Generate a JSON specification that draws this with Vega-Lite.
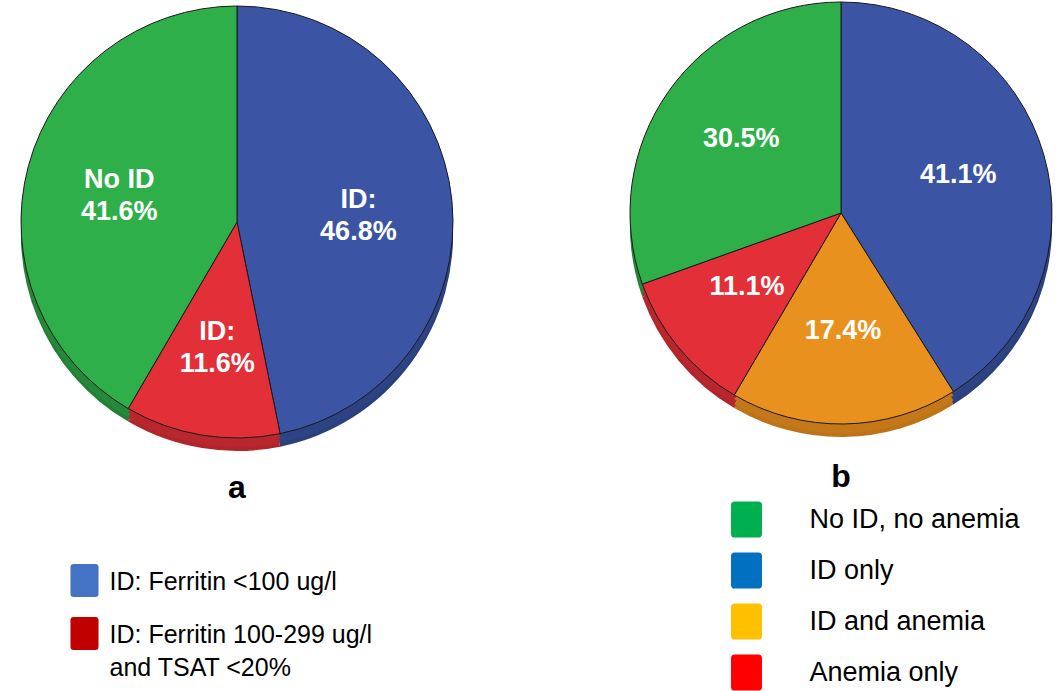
{
  "$schema": "https://vega.github.io/schema/vega-lite/v6.json",
  "padding": 0,
  "background": "white",
  "spacing": 146,
  "config": {"view": {"stroke": null, "fill": "white"}, "font": "Liberation Sans"},
  "resolve": {"scale": {"color": "independent", "theta": "independent", "y": "independent"}},
  "hconcat": [
    {
      "bounds": "flush",
      "spacing": 110,
      "resolve": {"scale": {"color": "independent", "theta": "independent", "y": "independent"}},
      "vconcat": [
        {
          "width": 474,
          "height": 444,
          "title": {"text": "a", "orient": "bottom", "anchor": "middle", "frame": "group", "offset": 47, "baseline": "alphabetic", "fontSize": 32, "fontWeight": "bold", "color": "#000000", "font": "Liberation Sans"},
          "data": {"values": [
            {"group": "ID: Ferritin <100 ug/l", "pct": 46.8, "order": 1, "label": "ID:\n46.8%"},
            {"group": "ID: Ferritin 100-299 ug/l and TSAT <20%", "pct": 11.6, "order": 2, "label": "ID:\n11.6%"},
            {"group": "No ID", "pct": 41.6, "order": 3, "label": "No ID\n41.6%"}
          ]},
          "encoding": {
            "theta": {"field": "pct", "type": "quantitative", "stack": true},
            "order": {"field": "order", "type": "quantitative"}
          },
          "layer": [
            {"mark": {"type": "arc", "radius": 216, "yOffset": 13},
             "encoding": {"color": {"field": "group", "type": "nominal", "legend": null, "scale": {"domain": ["ID: Ferritin <100 ug/l", "ID: Ferritin 100-299 ug/l and TSAT <20%", "No ID"], "range": ["#2B3F7A", "#B0252B", "#227F35"]}}}},
            {"mark": {"type": "arc", "radius": 216, "yOffset": 9},
             "encoding": {"color": {"field": "group", "type": "nominal", "legend": null, "scale": {"domain": ["ID: Ferritin <100 ug/l", "ID: Ferritin 100-299 ug/l and TSAT <20%", "No ID"], "range": ["#2E4383", "#B9272E", "#25883A"]}}}},
            {"mark": {"type": "arc", "radius": 216, "yOffset": 4},
             "encoding": {"color": {"field": "group", "type": "nominal", "legend": null, "scale": {"domain": ["ID: Ferritin <100 ug/l", "ID: Ferritin 100-299 ug/l and TSAT <20%", "No ID"], "range": ["#2E4383", "#B9272E", "#25883A"]}}}},
            {"mark": {"type": "arc", "radius": 216, "stroke": "#1a1a1a", "strokeWidth": 1},
             "encoding": {"color": {"field": "group", "type": "nominal", "legend": null, "scale": {"domain": ["ID: Ferritin <100 ug/l", "ID: Ferritin 100-299 ug/l and TSAT <20%", "No ID"], "range": ["#3B55A4", "#E33038", "#2EAF4A"]}}}},
            {"mark": {"type": "text", "radius": 122, "dy": -10, "fontSize": 27, "fontWeight": "bold", "color": "white", "lineBreak": "\n", "lineHeight": 32, "font": "Liberation Sans"},
             "encoding": {"text": {"field": "label", "type": "nominal"}}}
          ],
          "resolve": {"scale": {"color": "independent"}}
        },
        {
          "width": 169,
          "height": {"step": 53},
          "data": {"values": [
            {"item": "ID: Ferritin <100 ug/l", "label": "ID: Ferritin <100 ug/l"},
            {"item": "ID: Ferritin 100-299 ug/l and TSAT <20%", "label": "ID: Ferritin 100-299 ug/l\nand TSAT <20%"}
          ]},
          "encoding": {"y": {"field": "item", "type": "nominal", "sort": null, "axis": null}},
          "layer": [
            {"mark": {"type": "point", "shape": "M-0.65,-1 L0.65,-1 Q0.85,-1 0.85,-0.8 L0.85,0.8 Q0.85,1 0.65,1 L-0.65,1 Q-0.85,1 -0.85,0.8 L-0.85,-0.8 Q-0.85,-1 -0.65,-1 Z", "size": 1089, "filled": true, "opacity": 1, "strokeWidth": 0},
             "encoding": {"color": {"field": "item", "type": "nominal", "legend": null, "scale": {"domain": ["ID: Ferritin <100 ug/l", "ID: Ferritin 100-299 ug/l and TSAT <20%"], "range": ["#4472C4", "#C00000"]}}}},
            {"mark": {"type": "text", "align": "left", "baseline": "alphabetic", "dx": 25, "dy": 9, "fontSize": 25, "lineBreak": "\n", "lineHeight": 33, "color": "#000000", "font": "Liberation Sans"},
             "encoding": {"text": {"field": "label", "type": "nominal"}}}
          ]
        }
      ]
    },
    {
      "bounds": "flush",
      "spacing": 68,
      "resolve": {"scale": {"color": "independent", "theta": "independent", "y": "independent"}},
      "vconcat": [
        {
          "width": 442,
          "height": 426,
          "title": {"text": "b", "orient": "bottom", "anchor": "middle", "frame": "group", "offset": 50, "baseline": "alphabetic", "fontSize": 32, "fontWeight": "bold", "color": "#000000", "font": "Liberation Sans"},
          "data": {"values": [
            {"group": "ID only", "pct": 41.1, "order": 1, "label": "41.1%"},
            {"group": "ID and anemia", "pct": 17.4, "order": 2, "label": "17.4%"},
            {"group": "Anemia only", "pct": 11.1, "order": 3, "label": "11.1%"},
            {"group": "No ID, no anemia", "pct": 30.5, "order": 4, "label": "30.5%"}
          ]},
          "encoding": {
            "theta": {"field": "pct", "type": "quantitative", "stack": true},
            "order": {"field": "order", "type": "quantitative"}
          },
          "layer": [
            {"mark": {"type": "arc", "radius": 211, "yOffset": 13},
             "encoding": {"color": {"field": "group", "type": "nominal", "legend": null, "scale": {"domain": ["ID only", "ID and anemia", "Anemia only", "No ID, no anemia"], "range": ["#2B3F7A", "#BD7417", "#B0252B", "#227F35"]}}}},
            {"mark": {"type": "arc", "radius": 211, "yOffset": 9},
             "encoding": {"color": {"field": "group", "type": "nominal", "legend": null, "scale": {"domain": ["ID only", "ID and anemia", "Anemia only", "No ID, no anemia"], "range": ["#2E4383", "#C47819", "#B9272E", "#25883A"]}}}},
            {"mark": {"type": "arc", "radius": 211, "yOffset": 4},
             "encoding": {"color": {"field": "group", "type": "nominal", "legend": null, "scale": {"domain": ["ID only", "ID and anemia", "Anemia only", "No ID, no anemia"], "range": ["#2E4383", "#C47819", "#B9272E", "#25883A"]}}}},
            {"mark": {"type": "arc", "radius": 211, "stroke": "#1a1a1a", "strokeWidth": 1},
             "encoding": {"color": {"field": "group", "type": "nominal", "legend": null, "scale": {"domain": ["ID only", "ID and anemia", "Anemia only", "No ID, no anemia"], "range": ["#3B55A4", "#E8911E", "#E33038", "#2EAF4A"]}}}},
            {"mark": {"type": "text", "radius": 122, "dy": -4, "fontSize": 27, "fontWeight": "bold", "color": "white", "font": "Liberation Sans"},
             "encoding": {"text": {"field": "label", "type": "nominal"}}}
          ],
          "resolve": {"scale": {"color": "independent"}}
        },
        {
          "width": 253,
          "height": {"step": 51},
          "data": {"values": [
            {"item": "No ID, no anemia"},
            {"item": "ID only"},
            {"item": "ID and anemia"},
            {"item": "Anemia only"}
          ]},
          "encoding": {"y": {"field": "item", "type": "nominal", "sort": null, "axis": null}},
          "layer": [
            {"mark": {"type": "point", "shape": "M-0.66,-1 L0.66,-1 Q0.86,-1 0.86,-0.8 L0.86,0.8 Q0.86,1 0.66,1 L-0.66,1 Q-0.86,1 -0.86,0.8 L-0.86,-0.8 Q-0.86,-1 -0.66,-1 Z", "size": 1296, "filled": true, "opacity": 1, "strokeWidth": 0},
             "encoding": {"color": {"field": "item", "type": "nominal", "legend": null, "scale": {"domain": ["No ID, no anemia", "ID only", "ID and anemia", "Anemia only"], "range": ["#00B050", "#0070C0", "#FFC000", "#FF0000"]}}}},
            {"mark": {"type": "text", "align": "left", "baseline": "middle", "dx": 63, "fontSize": 27, "color": "#000000", "font": "Liberation Sans"},
             "encoding": {"text": {"field": "item", "type": "nominal"}}}
          ]
        }
      ]
    }
  ]
}
